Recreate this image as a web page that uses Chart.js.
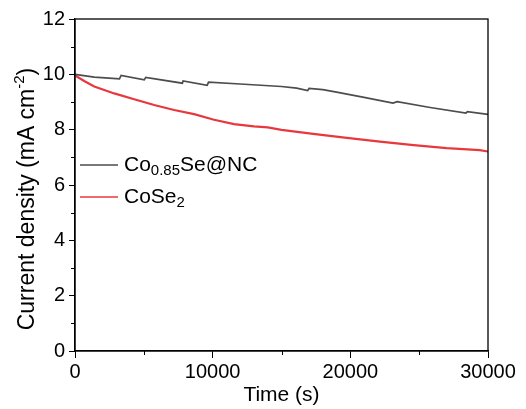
<!DOCTYPE html>
<html>
<head>
<meta charset="utf-8">
<script src="https://cdn.jsdelivr.net/npm/chart.js@4/dist/chart.umd.min.js"></script>
<style>
  html, body { margin: 0; padding: 0; background: #fff; }
  #wrap { width: 526px; height: 409px; }
</style>
</head>
<body>
<div id="wrap"><canvas id="chart" width="526" height="409"></canvas></div>
<script>
// data (time in s, current density in mA cm-2)
const timeNC = [0, 1400, 3230, 3350, 5030, 5140, 7800, 7850, 9600, 9700, 12000, 15000, 16100, 16900, 17000, 18000, 19000, 21000, 23100, 23400, 25800, 28400, 28500, 30000];
const currentNC = [10.0, 9.9, 9.84, 9.96, 9.8, 9.89, 9.68, 9.76, 9.6, 9.72, 9.65, 9.56, 9.5, 9.41, 9.49, 9.45, 9.36, 9.17, 8.96, 9.01, 8.8, 8.6, 8.65, 8.55];

const timeCoSe2 = [0, 700, 1400, 2850, 4300, 5750, 7200, 8650, 10100, 11550, 13000, 14000, 15000, 17300, 19750, 22150, 24600, 27000, 29400, 30000];
const currentCoSe2 = [9.96, 9.75, 9.56, 9.31, 9.1, 8.89, 8.71, 8.56, 8.36, 8.2, 8.12, 8.08, 7.99, 7.85, 7.7, 7.57, 7.44, 7.33, 7.26, 7.21];

const xTicks = [0, 10000, 20000, 30000];
const yTicks = [0, 2, 4, 6, 8, 10, 12];

const FONT = 'Liberation Sans, Arial, sans-serif';
const GREY = '#4d4d4d';
const RED = '#e8383d';

function toPoints(xs, ys) {
    return xs.map((x, i) => ({ x: x, y: ys[i] }));
}

// frame, minor ticks, axis titles, legend
const decorPlugin = {
    id: 'decor',
    afterDraw(chart) {
        const c = chart.ctx;
        const a = chart.chartArea;
        const xs = chart.scales.x;
        const ys = chart.scales.y;
        c.save();
        c.strokeStyle = '#000';
        c.lineWidth = 1.3;
        c.strokeRect(a.left, a.top, a.right - a.left, a.bottom - a.top);

        // minor ticks
        c.lineWidth = 1;
        for (let v = 5000; v < 30000; v += 10000) {
            const px = Math.round(xs.getPixelForValue(v)) + 0.5;
            c.beginPath(); c.moveTo(px, a.bottom); c.lineTo(px, a.bottom + 4); c.stroke();
        }
        for (let v = 1; v < 12; v += 2) {
            const py = Math.round(ys.getPixelForValue(v)) + 0.5;
            c.beginPath(); c.moveTo(a.left, py); c.lineTo(a.left - 4, py); c.stroke();
        }

        c.fillStyle = '#000';
        c.textBaseline = 'middle';

        // x title
        c.font = '21px ' + FONT;
        c.textAlign = 'center';
        c.fillText('Time (s)', (a.left + a.right) / 2, 395);

        // y title with superscript
        c.save();
        c.translate(28, 199);
        c.rotate(-Math.PI / 2);
        const p1 = 'Current density (mA cm';
        const sup = '-2';
        const p3 = ')';
        c.font = '23px ' + FONT;
        const w1 = c.measureText(p1).width;
        const w3 = c.measureText(p3).width;
        c.font = '15px ' + FONT;
        const w2 = c.measureText(sup).width;
        let x0 = -(w1 + w2 + w3) / 2;
        c.textAlign = 'left';
        c.font = '23px ' + FONT;
        c.fillText(p1, x0, 0);
        c.font = '15px ' + FONT;
        c.fillText(sup, x0 + w1, -8);
        c.font = '23px ' + FONT;
        c.fillText(p3, x0 + w1 + w2, 0);
        c.restore();

        // legend
        const items = [
            { color: GREY, parts: [['Co', 0], ['0.85', 1], ['Se@NC', 0]], y: 165 },
            { color: RED, parts: [['CoSe', 0], ['2', 1]], y: 197 }
        ];
        items.forEach(it => {
            c.strokeStyle = it.color;
            c.lineWidth = 1.3;
            c.beginPath(); c.moveTo(80, it.y); c.lineTo(118, it.y); c.stroke();
            let tx = 124;
            c.textAlign = 'left';
            it.parts.forEach(p => {
                c.font = (p[1] ? '15px ' : '21px ') + FONT;
                c.fillText(p[0], tx, it.y + (p[1] ? 6 : 0));
                tx += c.measureText(p[0]).width;
            });
        });
        c.restore();
    }
};

const ctx = document.getElementById('chart').getContext('2d');
const chart = new Chart(ctx, {
    type: 'line',
    data: {
        datasets: [{
            label: 'Co0.85Se@NC',
            data: toPoints(timeNC, currentNC),
            borderColor: GREY,
            borderWidth: 1.7,
            pointRadius: 0,
            tension: 0
        }, {
            label: 'CoSe2',
            data: toPoints(timeCoSe2, currentCoSe2),
            borderColor: RED,
            borderWidth: 2.2,
            pointRadius: 0,
            tension: 0
        }]
    },
    options: {
        responsive: false,
        animation: false,
        devicePixelRatio: 1,
        layout: { padding: { left: 0, top: 19, right: 38, bottom: 0 } },
        plugins: {
            legend: { display: false },
            tooltip: { enabled: false }
        },
        scales: {
            x: {
                type: 'linear',
                min: 0,
                max: 30000,
                afterBuildTicks: s => { s.ticks = xTicks.map(v => ({ value: v })); },
                afterFit: s => { s.height = 58; },
                ticks: {
                    color: '#000',
                    font: { family: FONT, size: 20 },
                    padding: 2,
                    maxRotation: 0,
                    callback: v => String(v)
                },
                grid: { drawOnChartArea: false, tickLength: 7, tickColor: '#000', tickWidth: 1 },
                border: { color: '#000', width: 1.3 }
            },
            y: {
                min: 0,
                max: 12,
                afterBuildTicks: s => { s.ticks = yTicks.map(v => ({ value: v })); },
                afterFit: s => { s.width = 75; },
                ticks: {
                    color: '#000',
                    font: { family: FONT, size: 20 },
                    padding: 4,
                    callback: v => String(v)
                },
                grid: { drawOnChartArea: false, tickLength: 6, tickColor: '#000', tickWidth: 1 },
                border: { color: '#000', width: 1.3 }
            }
        }
    },
    plugins: [decorPlugin]
});
</script>
</body>
</html>
